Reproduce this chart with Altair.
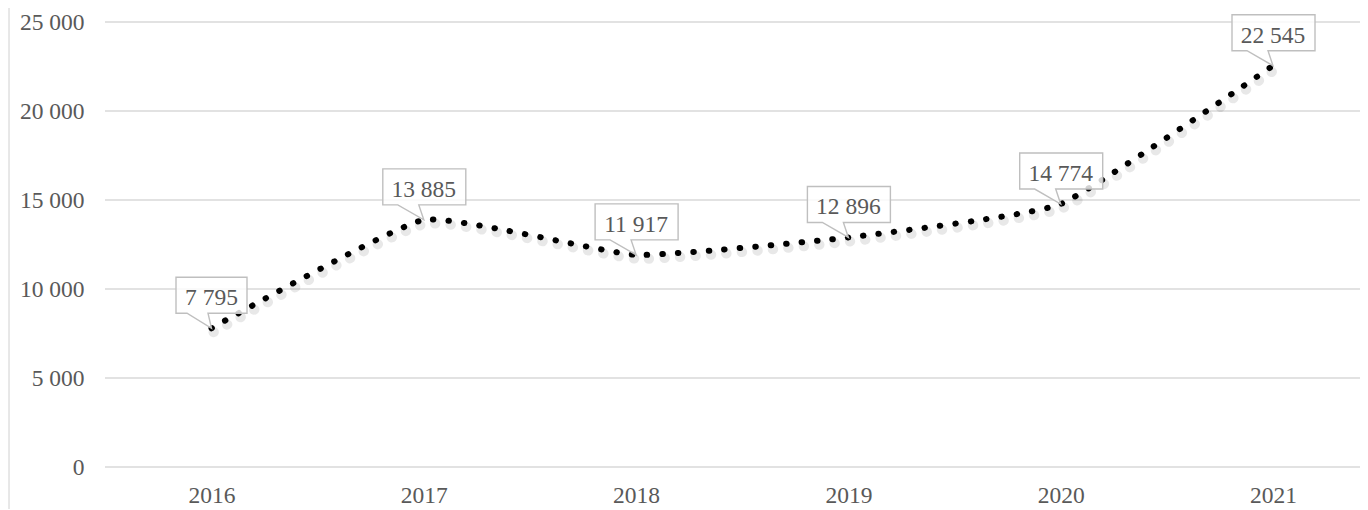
import altair as alt
import pandas as pd

years = ["2016", "2017", "2018", "2019", "2020", "2021"]
values = [7795, 13885, 11917, 12896, 14774, 22545]
y_ticks = [0, 5000, 10000, 15000, 20000, 25000]

df = pd.DataFrame({"year": years, "value": values})
grid_df = pd.DataFrame({"tick": y_ticks})

FONT = "Liberation Serif"
GRAY_TXT = "#595959"
LBL = "replace(format(datum.value, ','), ',', ' ')"

x_enc = alt.X(
    "year:O",
    scale=alt.Scale(type="point", range=[106.5, 1168], padding=0),
    axis=alt.Axis(title=None, labelAngle=0, domain=False, ticks=False, grid=False,
                  labelFont=FONT, labelFontSize=23.5, labelColor=GRAY_TXT, labelPadding=16),
)
y_scale = alt.Scale(domain=[0, 25000], nice=False)
y_axis = alt.Axis(title=None, values=y_ticks, domain=False, ticks=False, grid=False,
                  labelFont=FONT, labelFontSize=23.5,
                  labelColor=GRAY_TXT, labelPadding=21, labelExpr=LBL)
y_enc = alt.Y("value:Q", scale=y_scale, axis=y_axis)

gridlines = alt.Chart(grid_df).mark_rule(color="#d9d9d9", strokeWidth=1.3).encode(
    y=alt.Y("tick:Q", scale=y_scale, axis=y_axis),
    x=alt.value(0), x2=alt.value(1255))

base = alt.Chart(df).encode(x=x_enc, y=y_enc)

INTERP = "cardinal"
TENSION = 0.6
shadow = base.mark_line(interpolate=INTERP, tension=TENSION, color="black", opacity=0.09,
                        strokeWidth=10, strokeDash=[0.5, 15], strokeCap="round",
                        xOffset=2, yOffset=4)
line = base.mark_line(interpolate=INTERP, tension=TENSION, color="black", strokeWidth=6,
                      strokeDash=[0.5, 15], strokeCap="round")

path6 = "M-0.41,-0.51 L0.42,-0.51 L0.42,-0.15 L-0.05,-0.15 L0,0 L-0.26,-0.15 L-0.41,-0.15 Z"
path5 = "M-0.355,-0.51 L0.355,-0.51 L0.355,-0.15 L-0.035,-0.15 L0,0 L-0.245,-0.15 L-0.355,-0.15 Z"

labeled = base.transform_calculate(lbl=LBL)

box6 = labeled.transform_filter("length(datum.lbl) >= 6").mark_point(
    shape=path6, size=40000, filled=True, fill="white", fillOpacity=0.82,
    stroke="#bfbfbf", strokeWidth=1.4, opacity=1)
box5 = labeled.transform_filter("length(datum.lbl) < 6").mark_point(
    shape=path5, size=40000, filled=True, fill="white", fillOpacity=0.82,
    stroke="#bfbfbf", strokeWidth=1.4, opacity=1)

text = labeled.mark_text(font=FONT, fontSize=23.5, color=GRAY_TXT, baseline="alphabetic",
                         align="center", dy=-23).encode(text="lbl:N")

border = alt.Chart(pd.DataFrame({"a": [0]})).mark_rule(color="#d0d0d0", strokeWidth=1).encode(
    x=alt.value(-96), y=alt.value(-14), y2=alt.value(487))

chart = alt.layer(gridlines, border, shadow, line, box6, box5, text).properties(
    width=1255, height=445,
    autosize=alt.AutoSizeParams(type="none"),
    padding={"left": 97, "top": 14, "right": 0, "bottom": 42},
).configure_view(stroke=None)

chart.save("out.html", embed_options={"renderer": "svg", "actions": False})
